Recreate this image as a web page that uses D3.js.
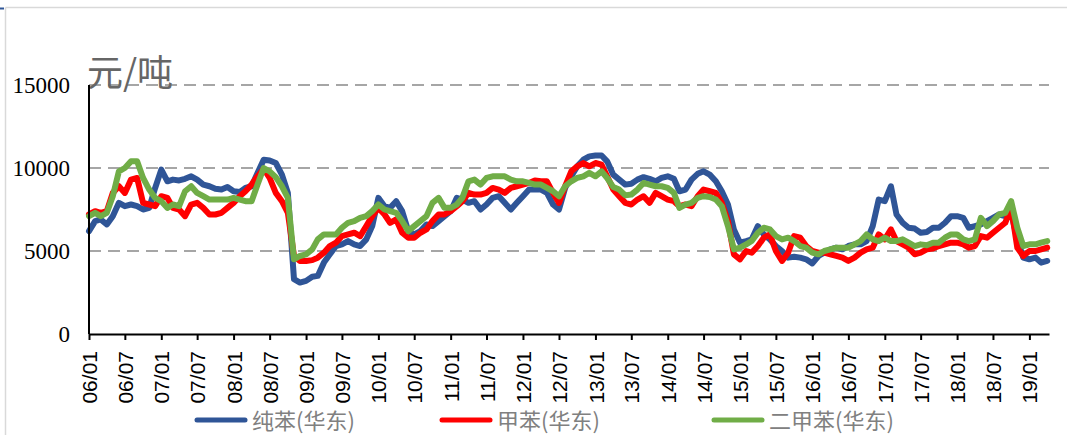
<!DOCTYPE html>
<html>
<head>
<meta charset="utf-8">
<script src="https://cdn.jsdelivr.net/npm/d3@7"></script>
<style>
html,body{margin:0;padding:0;background:#fff;}
svg{display:block;}
.ylab{font-family:"Liberation Serif","DejaVu Serif",serif;font-size:23px;}
.xlab{font-family:"Liberation Sans",Arial,sans-serif;font-size:21px;}
.cjk{font-family:"Noto Sans CJK SC",sans-serif;}
</style>
</head>
<body>
<svg id="chart" width="1067" height="435"></svg>
<script>
// ---- data ----
const startMonth = new Date(2006, 0, 1);
const seriesNames = ["纯苯(华东)", "甲苯(华东)", "二甲苯(华东)"];
const seriesColors = ["#2f5597", "#ff0000", "#70ad47"];
const yTicks = [0, 5000, 10000, 15000];
const yUnit = "元/吨";

// monthly values from 2006-01 to 2019-04
const benzene = [
  6200, 6800, 6900, 6600, 7100, 7900, 7700, 7800, 7700, 7500,
  7600, 8800, 9900, 9200, 9300, 9250, 9350, 9500, 9300, 9000,
  8900, 8750, 8700, 8850, 8600, 8550, 8800, 8900, 9700, 10500,
  10450, 10300, 9600, 8500, 3300, 3100, 3200, 3450, 3500, 4300,
  4800, 5300, 5400, 5600, 5400, 5300, 5700, 6500, 8200, 7700,
  7600, 8000, 7400, 6200, 6000, 6200, 6600, 6500, 6800, 7100,
  7400, 8200, 8100, 7900, 8000, 7500, 7800, 8200, 8300, 7900,
  7500, 7900, 8300, 8700, 8700, 8700, 8500, 7800, 7500, 8800,
  9500, 10100, 10500, 10700, 10750, 10750, 10400, 9600, 9300, 9000,
  9050, 9300, 9450, 9350, 9200, 9400, 9500, 9350, 8600, 8700,
  9300, 9650, 9800, 9600, 9200, 8600, 7800, 6300, 5500, 5600,
  5700, 6500, 6000, 5700, 5300, 5000, 4600, 4650, 4600, 4500,
  4250, 4700, 4900, 5100, 5200, 5100, 5300, 5400, 5400, 5600,
  6500, 8100, 8000, 8900, 7200, 6700, 6400, 6350, 6100, 6150,
  6400, 6400, 6700, 7100, 7100, 7000, 6400, 6500, 6600, 6800,
  7000, 7200, 7100, 7300, 5700, 4600, 4500, 4600, 4300, 4400
];
const toluene = [
  7200, 7400, 7300, 7400, 8500, 8900, 8500, 9300, 9400, 7900,
  7800, 7700, 8300, 8200, 7600, 7500, 7100, 7800, 7900, 7600,
  7200, 7200, 7300, 7600, 7900, 8300, 8600, 9000, 9500, 9950,
  9400, 8500, 8000, 7300, 4700, 4400, 4400, 4450, 4600, 4900,
  5300, 5500, 5900, 6000, 6100, 5900, 6500, 7100, 7600, 7200,
  6700, 6900, 6100, 5800, 5800, 6100, 6300, 6800, 7200, 7200,
  7400, 7700, 8000, 8500, 8400, 8400, 8500, 8800, 8700, 8500,
  8800, 8900, 9000, 9100, 9250, 9200, 9200, 8500, 7900, 8900,
  9800, 10100, 10300, 10100, 10300, 10200, 9500, 8700, 8300, 7900,
  7800, 8100, 8300, 7900, 8500, 8300, 8100, 8000, 7700, 7800,
  7700, 8300, 8700, 8600, 8500, 7900, 6800, 4800, 4500, 5000,
  4900, 5300, 5800, 6000, 5000, 4400, 4900, 5900, 5800, 5300,
  5000, 4900, 4900, 4800, 4700, 4600, 4400, 4600, 4900, 5100,
  5200, 6000, 5700, 6300, 5600, 5400, 5200, 4800, 4900, 5100,
  5150, 5300, 5400, 5500, 5500, 5400, 5200, 5300, 5900, 5800,
  6100, 6400, 6700, 7600, 5200, 4700, 5000, 5000, 5100, 5200
];
const xylene = [
  7100, 7300, 7100, 7300, 8300, 9800, 10000, 10400, 10400, 9400,
  8700, 8200, 8000, 7600, 7800, 7700, 8600, 8900, 8500, 8300,
  8100, 8100, 8100, 8100, 8200, 8100, 8000, 8000, 9000, 10000,
  9800, 9450, 8900, 8200, 4500, 4700, 4800, 5100, 5700, 6000,
  6000, 6000, 6400, 6700, 6800, 7000, 7100, 7400, 7800, 7500,
  7400, 7300, 6800, 6200, 6500, 6800, 7100, 7900, 8200, 7600,
  7600, 7800, 8200, 9200, 9300, 9000, 9400, 9500, 9500, 9500,
  9300, 9200, 9200, 9100, 9000, 9000, 8800, 8600, 8300, 8900,
  9200, 9400, 9500, 9700, 9500, 9800, 9400, 8850, 8700, 8350,
  8400, 8700, 9100, 9000, 8900, 8900, 8800, 8500, 7600, 7800,
  7900, 8200, 8300, 8250, 8100, 7700, 6500, 5100, 5200, 5400,
  5600, 6100, 6400, 6300, 5900, 5700, 5800, 5600, 5300, 5200,
  4900, 4800, 5000, 5100, 5200, 5200, 5200, 5400, 5600, 6000,
  5700, 5600, 5800, 5600, 5600, 5700, 5500, 5300, 5400, 5350,
  5500, 5500, 5800, 6000, 6000, 5700, 5600, 5700, 7000, 6500,
  6800, 7200, 7300, 8000, 6400, 5300, 5400, 5400, 5500, 5600
];

// ---- chart ----
const svg = d3.select("#chart");
const X0 = 89, X1 = 1049, Y0 = 334, Y1 = 85;

const dates = benzene.map((_, i) => d3.timeMonth.offset(startMonth, i));
const x = d3.scaleTime().domain([startMonth, new Date(2019, 3, 10)]).range([X0, X1]);
const y = d3.scaleLinear().domain([0, 15000]).range([Y0, Y1]);

// frame
svg.append("line").attr("x1", 5.5).attr("x2", 5.5).attr("y1", 7.5).attr("y2", 435)
  .attr("stroke", "#d9d9d9").attr("stroke-width", 1.5);
svg.append("line").attr("x1", 5.5).attr("x2", 1067).attr("y1", 7.5).attr("y2", 7.5)
  .attr("stroke", "#d9d9d9").attr("stroke-width", 1.5);
svg.append("line").attr("x1", 0).attr("x2", 4).attr("y1", 8.5).attr("y2", 8.5)
  .attr("stroke", "#2f5597").attr("stroke-width", 2);

// gridlines
svg.append("g").selectAll("line").data(yTicks.filter(d => d > 0)).join("line")
  .attr("x1", X0).attr("x2", X1)
  .attr("y1", d => y(d)).attr("y2", d => y(d))
  .attr("stroke", "#a6a6a6").attr("stroke-width", 2)
  .attr("stroke-dasharray", "12,7");

// y labels
svg.append("g").selectAll("text").data(yTicks).join("text")
  .attr("class", "ylab")
  .attr("x", 70).attr("y", d => y(d))
  .attr("dy", "0.35em")
  .attr("text-anchor", "end")
  .attr("fill", "#000")
  .text(d => d);

// unit
svg.append("text").attr("class", "cjk").attr("x", 87).attr("y", 86)
  .attr("font-size", 36).attr("fill", "#666")
  .text(yUnit);

// lines
const series = [benzene, toluene, xylene];
const line = d3.line().x((d, i) => x(dates[i])).y(d => y(d));
series.forEach((s, k) => {
  svg.append("path").datum(s)
    .attr("d", line)
    .attr("fill", "none")
    .attr("stroke", seriesColors[k])
    .attr("stroke-width", 6)
    .attr("stroke-linejoin", "round")
    .attr("stroke-linecap", "round");
});

// y axis line
svg.append("line").attr("x1", X0).attr("x2", X0).attr("y1", Y1).attr("y2", Y0)
  .attr("stroke", "#000").attr("stroke-width", 2);

// x axis
const xTickVals = d3.timeMonth.every(6).range(startMonth, new Date(2019, 3, 1));
const xAxis = d3.axisBottom(x).tickValues(xTickVals).tickSize(6).tickSizeOuter(0)
  .tickFormat(d3.timeFormat("%y/%m"));
const gx = svg.append("g").attr("transform", `translate(0,${Y0})`).call(xAxis);
gx.attr("font-family", null).attr("font-size", null);
gx.select(".domain").attr("stroke", "#000").attr("stroke-width", 2);
gx.selectAll(".tick line").attr("stroke", "#000").attr("stroke-width", 2);
gx.selectAll(".tick text")
  .attr("class", "xlab")
  .attr("fill", "#000")
  .attr("transform", "rotate(-90)")
  .attr("text-anchor", "end")
  .attr("x", -17).attr("y", 0).attr("dy", "0.36em");

// legend
const legendX = [195, 440, 712];
const lg = svg.append("g");
seriesNames.forEach((n, k) => {
  lg.append("line").attr("x1", legendX[k] + 2).attr("x2", legendX[k] + 50)
    .attr("y1", 420).attr("y2", 420)
    .attr("stroke", seriesColors[k]).attr("stroke-width", 5)
    .attr("stroke-linecap", "round");
  lg.append("text").attr("class", "cjk").attr("x", legendX[k] + 57).attr("y", 421)
    .attr("dy", "0.35em")
    .attr("font-size", 22).attr("fill", "#808080")
    .text(n);
});
</script>
</body>
</html>
